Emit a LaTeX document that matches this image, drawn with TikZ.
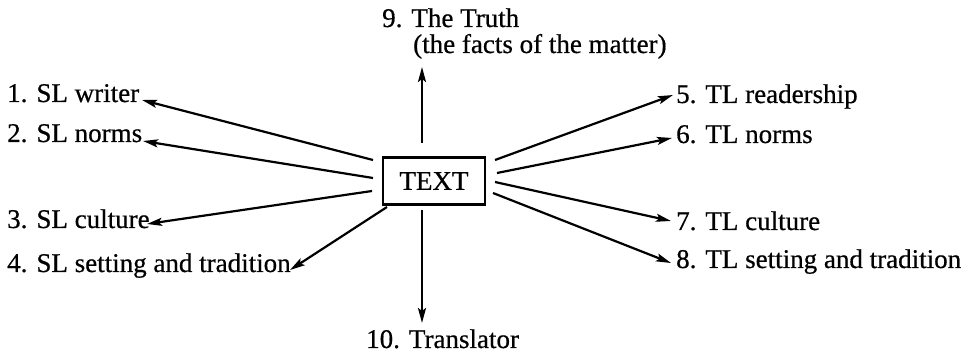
\documentclass[tikz,border=0pt]{standalone}
\usepackage{fontspec}
\setmainfont{Liberation Serif}[FakeBold=0.6]
\usetikzlibrary{arrows.meta}
\begin{document}
\begin{tikzpicture}[x=1pt,y=-1pt,
  lbl/.style={inner sep=0pt, anchor=base west, font=\fontsize{27}{32}\selectfont},
  textbox/.style={draw, line width=2.2pt, minimum width=102pt, minimum height=47pt,
    inner sep=0pt, font=\fontsize{27}{32}\selectfont},
  arr/.style={line width=2.2pt, -{Stealth[length=15pt,width=8pt,inset=3pt]}}]
\useasboundingbox (0,0) rectangle (967,355);

% central box
\node[textbox] (T) at (434,181) {TEXT};

% source-language side
\node[lbl] (n1) at (7,102) {1. SL writer};
\node[lbl] (n2) at (7,142) {2. SL norms};
\node[lbl] (n3) at (7,228) {3. SL culture};
\node[lbl] (n4) at (7,272) {4. SL setting and tradition};

% target-language side
\node[lbl] (n5) at (676,103) {5. TL readership};
\node[lbl] (n6) at (676,143) {6. TL norms};
\node[lbl] (n7) at (676,230) {7. TL culture};
\node[lbl] (n8) at (676,268) {8. TL setting and tradition};

% top and bottom
\node[lbl] (n9) at (382,27) {9. The Truth};
\node[lbl] (n9b) at (413,53) {(the facts of the matter)};
\node[lbl] (n10) at (366,348) {10. Translator};

% arrow tails near the box
\coordinate (s1) at (373,160);
\coordinate (s2) at (373,178);
\coordinate (s3) at (372,191);
\coordinate (s4) at (387,207);
\coordinate (s5) at (495,160);
\coordinate (s6) at (497,173);
\coordinate (s7) at (495,182);
\coordinate (s8) at (493,193);
\coordinate (s9) at (422,143);
\coordinate (s10) at (422,210);

% arrow tips beside the labels
\coordinate (e1) at (142,100);
\coordinate (e2) at (143,141);
\coordinate (e3) at (147,224);
\coordinate (e4) at (290,270);
\coordinate (e5) at (673,95);
\coordinate (e6) at (672,138);
\coordinate (e7) at (671,221);
\coordinate (e8) at (671,263);
\coordinate (e9) at (422,67);
\coordinate (e10) at (422,323);

\foreach \i in {1,...,10}
  \draw[arr] (s\i) -- (e\i);
\end{tikzpicture}
\end{document}
